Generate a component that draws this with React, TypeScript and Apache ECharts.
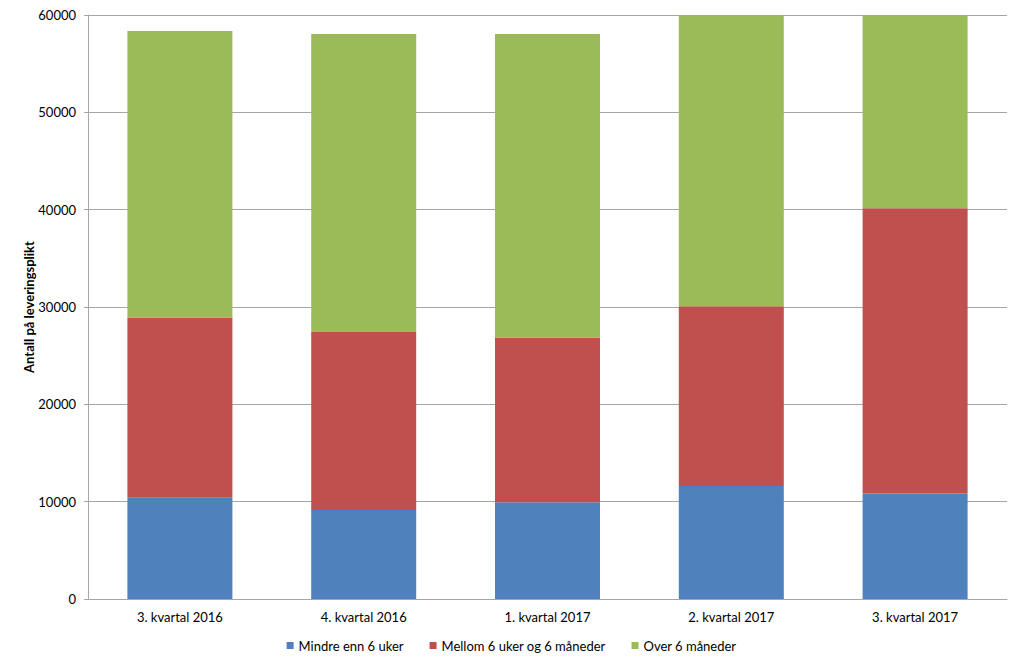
import React, { useEffect, useRef } from "react";
import * as echarts from "echarts";

const categories = ["3. kvartal 2016", "4. kvartal 2016", "1. kvartal 2017", "2. kvartal 2017", "3. kvartal 2017"];
const seriesNames = ["Mindre enn 6 uker", "Mellom 6 uker og 6 måneder", "Over 6 måneder"];
const lessThan6Weeks = [10400, 9150, 9950, 11600, 10850];
const between = [18500, 18280, 16900, 18470, 29300];
const over6Months = [29460, 30620, 31200, 31000, 21000];
const yTicks = [0, 10000, 20000, 30000, 40000, 50000, 60000];
const colors = ["#4f81bd", "#c0504d", "#9bbb59"];

const FONT = "Lato";

export default function App() {
  const ref = useRef<HTMLDivElement>(null);
  useEffect(() => {
    const chart = echarts.init(ref.current!, null, { renderer: "svg" });
    const data = [lessThan6Weeks, between, over6Months];
    chart.setOption({
      animation: false,
      textStyle: { fontFamily: FONT },
      grid: { left: 88, right: 16, top: 15, bottom: 69, containLabel: false },
      legend: {
        bottom: 11,
        left: "center",
        itemWidth: 7,
        itemHeight: 7,
        itemGap: 26,
        icon: "rect",
        textStyle: { fontFamily: FONT, fontSize: 13, color: "#000" },
        data: seriesNames,
      },
      xAxis: {
        type: "category",
        data: categories,
        axisLine: { lineStyle: { color: "#a6a6a6", width: 1 } },
        axisTick: { show: false },
        axisLabel: { fontFamily: FONT, fontSize: 13, color: "#000", margin: 11 },
      },
      yAxis: {
        type: "value",
        min: yTicks[0],
        max: yTicks[yTicks.length - 1],
        interval: 10000,
        name: "Antall på leveringsplikt",
        nameLocation: "middle",
        nameGap: 53,
        nameMoveOverlap: false,
        nameTextStyle: { fontFamily: FONT, fontSize: 13, fontWeight: "bold", color: "#000" },
        axisLine: { show: true, lineStyle: { color: "#a6a6a6", width: 1 } },
        axisTick: { show: true, length: 4, lineStyle: { color: "#a6a6a6" } },
        axisLabel: {
          fontFamily: FONT,
          fontSize: 13,
          color: "#000",
          margin: 12,
          formatter: (v: number) => String(v),
        },
        splitLine: { lineStyle: { color: "#a6a6a6", width: 1 } },
      },
      series: seriesNames.map((name, i) => ({
        name,
        type: "bar",
        stack: "total",
        data: data[i],
        barWidth: 105,
        clip: true,
        itemStyle: { color: colors[i] },
      })),
    });
    return () => chart.dispose();
  }, []);
  return <div ref={ref} style={{ position: "absolute", left: 0, top: 0, width: 1023, height: 668 }} />;
}
